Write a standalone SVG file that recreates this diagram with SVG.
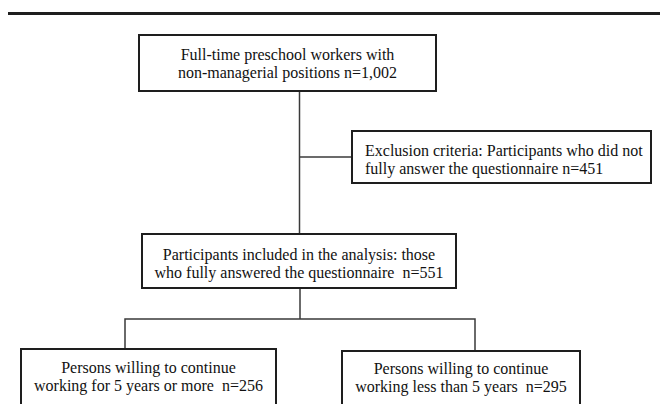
<svg xmlns="http://www.w3.org/2000/svg" width="660" height="404" viewBox="0 0 660 404">
<style>
.box{fill:#fff;stroke:#1e1e1e;stroke-width:2}
.t{font-family:"Liberation Serif","Times New Roman",serif;font-size:16px;fill:#111;white-space:pre}
.c{text-anchor:middle}
.ln{fill:none;stroke:#3a3a3a;stroke-width:1.5}
</style>
<rect width="660" height="404" fill="#fff"/>
<line x1="8" y1="13.5" x2="660" y2="13.5" stroke="#1e1e1e" stroke-width="3"/>
<g id="connectors">
<path class="ln" d="M299.5 91V234"/>
<path class="ln" d="M299.5 157H352"/>
<path class="ln" d="M300 288V319"/>
<path class="ln" d="M125 349V319H475V351"/>
</g>
<g id="n1">
<rect class="box" x="139" y="35" width="297" height="56"/>
<text class="t c" x="287.5" y="60">Full-time preschool workers with</text>
<text class="t c" x="287.5" y="78">non-managerial positions n=1,002</text>
</g>
<g id="n2">
<rect class="box" x="352" y="131" width="299" height="52"/>
<text class="t" x="365" y="156">Exclusion criteria: Participants who did not</text>
<text class="t" x="365" y="174">fully answer the questionnaire n=451</text>
</g>
<g id="n3">
<rect class="box" x="142" y="234" width="314" height="54"/>
<text class="t c" x="299" y="260">Participants included in the analysis: those</text>
<text class="t c" x="299" y="278">who fully answered the questionnaire  n=551</text>
</g>
<g id="n4">
<rect class="box" x="21" y="349" width="255" height="56"/>
<text class="t c" x="148.5" y="373">Persons willing to continue</text>
<text class="t c" x="148.5" y="391">working for 5 years or more  n=256</text>
</g>
<g id="n5">
<rect class="box" x="342" y="351" width="238" height="54"/>
<text class="t c" x="461" y="374">Persons willing to continue</text>
<text class="t c" x="461" y="392">working less than 5 years  n=295</text>
</g>
</svg>
